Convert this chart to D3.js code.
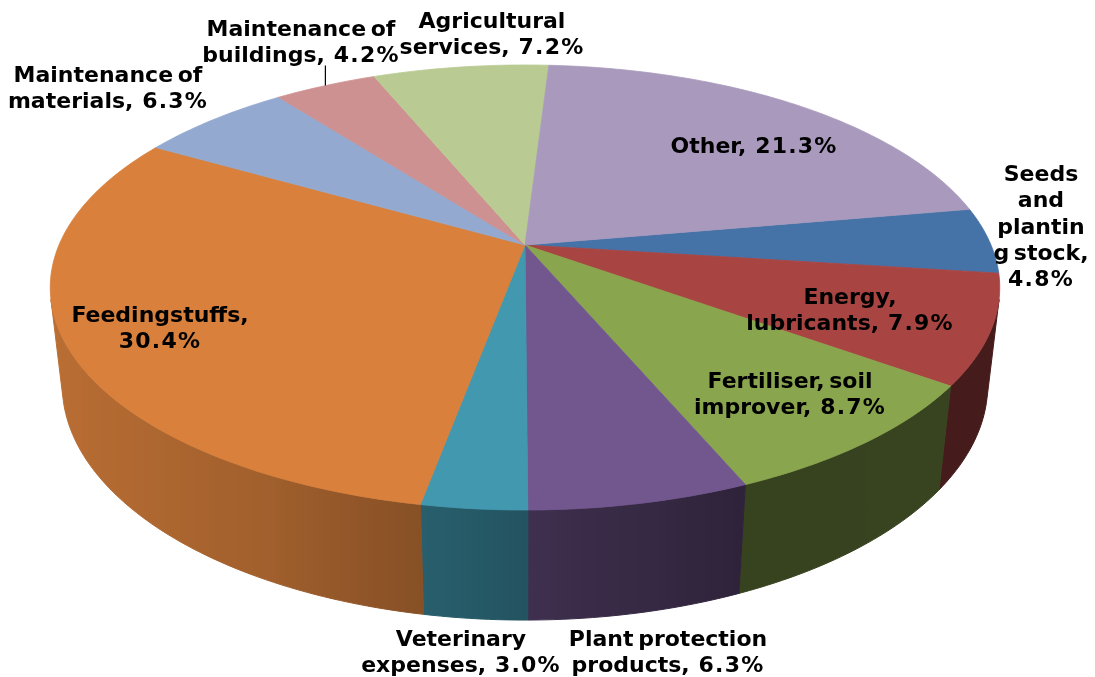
<!DOCTYPE html>
<html>
<head>
<meta charset="utf-8">
<script src="https://cdn.jsdelivr.net/npm/d3@7"></script>
<style>
  html, body { margin: 0; padding: 0; background: #fff; }
  svg { display: block; filter: blur(0.45px); }
  text { font-family: "DejaVu Sans", sans-serif; font-weight: bold; font-size: 22px; fill: #000; text-anchor: middle; word-spacing: -3px; }
  .value { letter-spacing: 1.2px; word-spacing: 0; }
</style>
</head>
<body>
<svg id="chart"></svg>
<script>
const width = 1095;
const height = 677;

// Data, clockwise from the seeds slice
const categories = ["Seeds and planting stock", "Energy, lubricants", "Fertiliser, soil improver",
  "Plant protection products", "Veterinary expenses", "Feedingstuffs", "Maintenance of materials",
  "Maintenance of buildings", "Agricultural services", "Other"];
const shares = [4.8, 7.9, 8.7, 6.3, 3.0, 30.4, 6.3, 4.2, 7.2, 21.3];
const colors = ["#4572a7", "#a84543", "#89a54e", "#72578f", "#4198af", "#d8803c", "#93a9cf", "#ce9191", "#b9cb93", "#a99abd"];

// How the labels wrap in the picture, the value goes on the last line or on its own
const labelLines = [
  ["Seeds", "and", "plantin", "g stock,", ""], ["Energy,", "lubricants,"], ["Fertiliser, soil", "improver,"],
  ["Plant protection", "products,"], ["Veterinary", "expenses,"], ["Feedingstuffs,", ""], ["Maintenance of", "materials,"],
  ["Maintenance of", "buildings,"], ["Agricultural", "services,"], ["Other,"]
];
const labelPos = [[1041, 181], [850, 304], [790, 388], [668, 646], [461, 646], [160, 322], [108, 82], [301, 36], [492, 28], [754, 153]];
const lineHeight = 26.3;

const svg = d3.select("#chart").attr("width", width).attr("height", height);
const defs = svg.append("defs");

// Perspective of the tilted disc. x,y on the unit circle, z 0 top face, 1 bottom face
const cx = 525, cy = 245;
const project = (a, z) => {
  const X = Math.sin(a), Y = -Math.cos(a);
  const w = 1 - 0.191 * Y + 0.025 * z;
  return [cx + 466 * X / w, cy + (214.4 * Y + 98.4 * z) / w];
};

const start = 80.1 * Math.PI / 180;
const arcs = d3.pie().sort(null).value(d => d).startAngle(start).endAngle(start + 2 * Math.PI)(shares);
const step = Math.PI / 180;
const sample = (a0, a1) => d3.range(a0, a1, step).concat([a1]);
const line = d3.line();

// Wall brightness by angle from the top, clockwise
const shade = d3.scaleLinear()
  .domain([126, 157, 180, 190, 208, 228, 256])
  .range([0.41, 0.40, 0.55, 0.62, 0.75, 0.82, 0.87])
  .clamp(true);
const deg = a => ((a * 180 / Math.PI) % 360 + 360) % 360;
// the wall is only seen between its two silhouette angles
const wallLimit = [104 * Math.PI / 180, 256 * Math.PI / 180];

const darken = (color, a) => {
  const c = d3.rgb(color);
  const k = shade(deg(a));
  return d3.rgb(c.r * k, c.g * k, c.b * k).formatHex();
};

// Side wall, one path per slice with a horizontal gradient
arcs.forEach((d, i) => {
  const a0 = Math.max(d.startAngle, wallLimit[0]);
  const a1 = Math.min(d.endAngle, wallLimit[1]);
  if (a1 <= a0) return;
  const angles = sample(a0, a1);
  const xs = angles.map(a => project(a, 0)[0]);
  const [x0, x1] = d3.extent(xs);

  const grad = defs.append("linearGradient")
    .attr("id", `wall${i}`)
    .attr("gradientUnits", "userSpaceOnUse")
    .attr("x1", x0).attr("x2", x1)
    .attr("y1", 0).attr("y2", 0);
  const stops = angles.map((a, j) => ({ offset: (xs[j] - x0) / (x1 - x0), color: darken(colors[i], a) }));
  grad.selectAll("stop")
    .data(stops.sort((p, q) => p.offset - q.offset))
    .enter()
    .append("stop")
    .attr("offset", s => s.offset)
    .attr("stop-color", s => s.color);

  const outline = angles.map(a => project(a, 0)).concat(angles.slice().reverse().map(a => project(a, 1)));
  svg.append("path")
    .attr("d", line(outline) + "Z")
    .attr("fill", `url(#wall${i})`)
    .attr("stroke", `url(#wall${i})`)
    .attr("stroke-width", 1);
});

// Top face
svg.append("g")
  .selectAll("path")
  .data(arcs)
  .enter()
  .append("path")
  .attr("d", d => line([[cx, cy]].concat(sample(d.startAngle, d.endAngle).map(a => project(a, 0)))) + "Z")
  .attr("fill", (d, i) => colors[i])
  .attr("stroke", (d, i) => colors[i])
  .attr("stroke-width", 0.8)
  .append("title")
  .text((d, i) => `${categories[i]}: ${shares[i]}%`);

// Leader line of the buildings label
const buildings = arcs[categories.indexOf("Maintenance of buildings")];
const leaderEnd = project((buildings.startAngle + buildings.endAngle) / 2, 0);
svg.append("line")
  .attr("x1", leaderEnd[0]).attr("x2", leaderEnd[0])
  .attr("y1", leaderEnd[1] - 20).attr("y2", leaderEnd[1])
  .attr("stroke", "#000")
  .attr("stroke-width", 1.2);

// Labels
const labels = svg.append("g")
  .selectAll("text")
  .data(categories)
  .enter()
  .append("text")
  .attr("x", (d, i) => labelPos[i][0])
  .attr("y", (d, i) => labelPos[i][1]);

labels.each(function (d, i) {
  const lines = labelLines[i];
  const value = shares[i].toFixed(1) + "%";
  const rows = d3.select(this).selectAll("tspan")
    .data(lines)
    .enter()
    .append("tspan")
    .attr("x", labelPos[i][0])
    .attr("dy", (l, j) => j === 0 ? 0 : lineHeight)
    .text(l => l);
  rows.filter((l, j) => j === lines.length - 1)
    .append("tspan")
    .attr("class", "value")
    .text(l => (l ? " " : "") + value);
});
</script>
</body>
</html>
